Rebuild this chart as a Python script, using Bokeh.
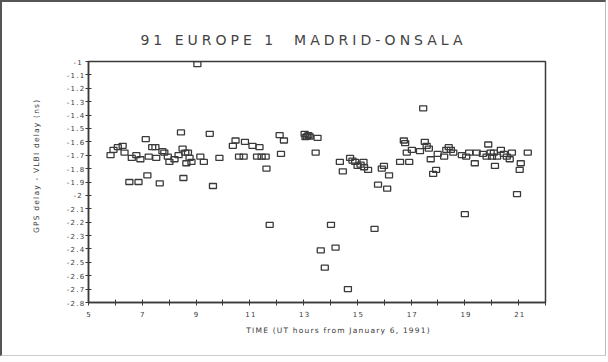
from bokeh.plotting import figure
from bokeh.models import FixedTicker, Div
from bokeh.layouts import column
from bokeh.embed import file_html
from bokeh.resources import INLINE

# UT hours from January 6, 1991
time_hours = [5.82, 5.93, 6.09, 6.27, 6.34, 6.52, 6.61, 6.78, 6.86, 6.93,
              7.13, 7.19, 7.24, 7.37, 7.49, 7.52, 7.65, 7.75, 7.82, 7.95,
              8.01, 8.20, 8.35, 8.44, 8.50, 8.53, 8.60, 8.64, 8.70, 8.76,
              8.83, 9.05, 9.16, 9.29, 9.51, 9.63, 9.87, 10.37, 10.47, 10.60,
              10.77, 10.82, 11.10, 11.27, 11.36, 11.44, 11.59, 11.62, 11.74, 12.11,
              12.16, 12.27, 13.04, 13.07, 13.12, 13.18, 13.23, 13.45, 13.52, 13.64,
              13.79, 14.02, 14.19, 14.35, 14.46, 14.65, 14.73, 14.82, 14.92, 15.01,
              15.12, 15.23, 15.25, 15.40, 15.64, 15.77, 15.91, 15.99, 16.11, 16.18,
              16.59, 16.73, 16.78, 16.84, 16.93, 17.03, 17.33, 17.45, 17.51, 17.58,
              17.66, 17.73, 17.82, 17.93, 17.99, 18.23, 18.31, 18.40, 18.48, 18.57,
              18.89, 19.00, 19.05, 19.16, 19.37, 19.44, 19.67, 19.81, 19.87, 19.96,
              20.01, 20.08, 20.12, 20.20, 20.34, 20.45, 20.56, 20.67, 20.75, 20.94,
              21.04, 21.08, 21.34]

# GPS delay - VLBI delay (ns)
delay_diff = [-1.70, -1.66, -1.64, -1.63, -1.68, -1.90, -1.72, -1.70, -1.90, -1.73,
              -1.58, -1.85, -1.71, -1.64, -1.64, -1.72, -1.91, -1.67, -1.68, -1.71,
              -1.75, -1.73, -1.70, -1.53, -1.65, -1.87, -1.68, -1.76, -1.68, -1.72,
              -1.75, -1.02, -1.71, -1.75, -1.54, -1.93, -1.72, -1.63, -1.59, -1.71,
              -1.71, -1.60, -1.63, -1.71, -1.64, -1.71, -1.71, -1.80, -2.22, -1.55,
              -1.69, -1.59, -1.54, -1.565, -1.56, -1.55, -1.56, -1.68, -1.57, -2.41,
              -2.54, -2.22, -2.39, -1.75, -1.82, -2.70, -1.72, -1.74, -1.75, -1.78,
              -1.77, -1.75, -1.79, -1.81, -2.25, -1.92, -1.80, -1.78, -1.95, -1.85,
              -1.75, -1.59, -1.61, -1.68, -1.75, -1.66, -1.67, -1.35, -1.60, -1.63,
              -1.65, -1.73, -1.84, -1.81, -1.69, -1.71, -1.66, -1.64, -1.66, -1.68,
              -1.70, -2.14, -1.71, -1.68, -1.76, -1.68, -1.69, -1.71, -1.62, -1.68,
              -1.71, -1.68, -1.78, -1.71, -1.66, -1.69, -1.71, -1.73, -1.68, -1.99,
              -1.81, -1.76, -1.68]

x_ticks = list(range(5, 23))
x_tick_labels = {t: (str(t) if (t % 2 == 1 and t <= 21) else "") for t in x_ticks}
y_ticks = [-1.0, -1.1, -1.2, -1.3, -1.4, -1.5, -1.6, -1.7, -1.8, -1.9,
           -2.0, -2.1, -2.2, -2.3, -2.4, -2.5, -2.6, -2.7, -2.8]
y_tick_labels = ["-1", "-1.1", "-1.2", "-1.3", "-1.4", "-1.5", "-1.6", "-1.7", "-1.8", "-1.9",
                 "-2", "-2.1", "-2.2", "-2.3", "-2.4", "-2.5", "-2.6", "-2.7", "-2.8"]
title_text = "91 EUROPE 1&nbsp;&nbsp;MADRID-ONSALA"

INK = "#3a3a3a"
FONT = "DejaVu Sans"

title_div = Div(
    text=('<div style="position:absolute; left:0; top:23px; width:593px; text-align:center; '
          'letter-spacing:4px; font-family:\'DejaVu Sans\'; font-size:14px; color:#444; '
          'white-space:nowrap;">' + title_text + '</div>'),
    width=593, height=41, styles={"position": "relative"})

p = figure(width=593, height=302, x_range=(5, 22), y_range=(-2.8, -1.0),
           output_backend="svg", toolbar_location=None,
           min_border_left=86, min_border_right=50, min_border_top=8, min_border_bottom=53)
p.styles = {"letter-spacing": "1.2px"}

p.xgrid.visible = False
p.ygrid.visible = False
p.outline_line_color = INK
p.outline_line_width = 1.5
p.background_fill_color = "white"
p.border_fill_color = "white"

p.xaxis.ticker = FixedTicker(ticks=x_ticks)
p.xaxis.major_label_overrides = x_tick_labels
p.yaxis.ticker = FixedTicker(ticks=y_ticks)
p.yaxis.major_label_overrides = {t: l for t, l in zip(y_ticks, y_tick_labels)}

for ax in (p.xaxis[0], p.yaxis[0]):
    ax.axis_line_color = INK
    ax.axis_line_width = 1.5
    ax.major_tick_line_color = INK
    ax.major_tick_line_width = 1
    ax.major_tick_in = 3
    ax.major_tick_out = 3
    ax.minor_tick_line_color = None
    ax.major_label_text_font = FONT
    ax.major_label_text_font_size = "7px"
    ax.major_label_text_color = INK
    ax.axis_label_text_font = FONT
    ax.axis_label_text_font_size = "7.5px"
    ax.axis_label_text_font_style = "normal"
    ax.axis_label_text_color = INK

p.xaxis.axis_label = "TIME (UT hours from January 6, 1991)"
p.xaxis.axis_label_standoff = 6
p.yaxis.axis_label = "GPS delay - VLBI delay (ns)"
p.yaxis.axis_label_standoff = 23
p.yaxis.major_label_standoff = 5
p.xaxis.major_label_standoff = 5

p.rect(x=time_hours, y=delay_diff, width=7, height=5,
       width_units="screen", height_units="screen",
       fill_color=None, line_color=INK, line_width=1.3)

layout = column(title_div, p, spacing=0,
                styles={"border-left": "2px solid #555", "border-top": "2px solid #555",
                        "border-right": "1px solid #bbb", "border-bottom": "1px solid #ccc",
                        "background": "white"})

open("out.html", "w").write(file_html(layout, INLINE))
